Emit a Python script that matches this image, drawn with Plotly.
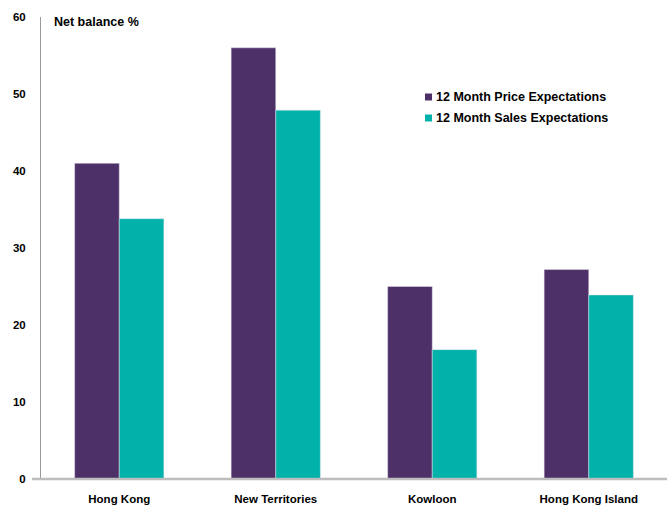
import plotly.graph_objects as go

# Regions surveyed
regions = ["Hong Kong", "New Territories", "Kowloon", "Hong Kong Island"]

# Net balance (%) by series
series_names = ["12 Month Price Expectations", "12 Month Sales Expectations"]
price_expectations = [41.0, 56.0, 25.0, 27.2]
sales_expectations = [33.8, 47.9, 16.8, 23.9]
series_values = [price_expectations, sales_expectations]
series_colors = ["#4E3068", "#00B2A9"]

y_ticks = [0, 10, 20, 30, 40, 50, 60]

W, H = 667, 508
ML, MR, MT, MB = 41, 0, 17, 29
PW, PH = W - ML - MR, H - MT - MB

def px_x(px):
    return (px - ML) / PW

def px_y(py):
    return (H - MB - py) / PH

sans = "Liberation Sans, Arial, sans-serif"

fig = go.Figure()
for name, vals, col in zip(series_names, series_values, series_colors):
    fig.add_trace(go.Bar(
        x=regions, y=vals, name=name,
        marker=dict(color=col, line=dict(color="rgba(230,225,240,0.8)", width=0.6)),
        showlegend=False,
    ))

tick_font = dict(family=sans, size=11.5, color="#000000", weight="bold")

fig.update_layout(
    width=W, height=H,
    margin=dict(l=ML, r=MR, t=MT, b=MB),
    paper_bgcolor="white", plot_bgcolor="white",
    barmode="group", bargap=0.43, bargroupgap=0,
    font=dict(family=sans, size=12, color="#000000"),
    xaxis=dict(
        showline=False, showgrid=False, zeroline=False,
        tickfont=tick_font, ticks="", ticklabelstandoff=11,
    ),
    yaxis=dict(
        range=[0, 60], tickvals=y_ticks, showgrid=False, zeroline=False,
        showline=True, linecolor="#9a9a9a", linewidth=1,
        tickfont=tick_font, ticks="", ticklabelstandoff=12,
    ),
)

# Baseline extending slightly left of the value axis
fig.add_shape(type="line", xref="paper", yref="paper",
              x0=px_x(32), x1=1, y0=0, y1=0,
              line=dict(color="#bdbdbd", width=2.5))

# Axis title
fig.add_annotation(text="<b>Net balance %</b>", xref="paper", yref="paper",
                   x=px_x(52), y=px_y(22), xanchor="left", yanchor="middle",
                   showarrow=False,
                   font=dict(family=sans, size=12.5, color="#000000"))

# Legend
legend_rows = [97, 118]
for name, col, ry in zip(series_names, series_colors, legend_rows):
    fig.add_shape(type="rect", xref="paper", yref="paper",
                  x0=px_x(425), x1=px_x(432), y0=px_y(ry + 3.5), y1=px_y(ry - 3.5),
                  fillcolor=col, line=dict(width=0))
    fig.add_annotation(text="<b>" + name + "</b>", xref="paper", yref="paper",
                       x=px_x(433.5), y=px_y(ry), xanchor="left", yanchor="middle",
                       showarrow=False,
                       font=dict(family=sans, size=12.5, color="#000000"))

fig.write_html("out.html")
